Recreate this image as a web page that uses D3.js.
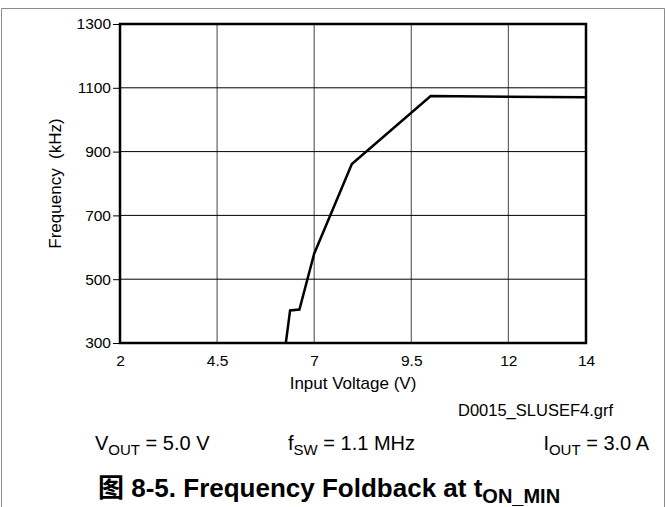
<!DOCTYPE html>
<html><head><meta charset="utf-8">
<script src="https://cdn.jsdelivr.net/npm/d3@7"></script>
<style>body{margin:0;background:#fff}svg{display:block;font-family:"Liberation Sans",Arial,sans-serif}</style>
</head><body><svg id="c" width="666" height="507"></svg>
<script>
const inputVoltage = [6.27, 6.38, 6.62, 7.0, 7.97, 10.0, 14.0];
const frequency = [300, 402, 405, 580, 861, 1074, 1070];
const xTicks = [2, 4.5, 7, 9.5, 12, 14];
const yTicks = [300, 500, 700, 900, 1100, 1300];

const svg = d3.select("#c");
const L = 120, R = 586, T = 24, B = 343;
const x = d3.scaleLinear().domain([2, 14]).range([L, R]);
const y = d3.scaleLinear().domain([300, 1300]).range([B, T]);

// outer frame
svg.append("path").attr("d", "M1.5,507 V8.5 H664.5 V507").attr("fill", "none").attr("stroke", "#8c8c8c").attr("stroke-width", 1);

// grid
svg.append("g").selectAll("line").data(xTicks.slice(1, -1)).join("line")
  .attr("x1", d => x(d)).attr("x2", d => x(d)).attr("y1", T).attr("y2", B)
  .attr("stroke", "#444").attr("stroke-width", 1);
svg.append("g").selectAll("line").data(yTicks.slice(1, -1)).join("line")
  .attr("x1", L).attr("x2", R).attr("y1", d => y(d)).attr("y2", d => y(d))
  .attr("stroke", "#000").attr("stroke-width", 1);

// y axis ticks & labels
const ya = d3.axisLeft(y).tickValues(yTicks).tickSize(7).tickPadding(2).tickFormat(d3.format("d"));
const gy = svg.append("g").attr("transform", `translate(${L},0)`).call(ya);
gy.select(".domain").remove();
gy.selectAll("line").attr("stroke", "#000");
gy.selectAll("text").attr("font-size", 15.5).attr("fill", "#000").attr("font-family", "Liberation Sans, Arial, sans-serif");

// x axis labels
const xa = d3.axisBottom(x).tickValues(xTicks).tickSize(0).tickPadding(12).tickFormat(d3.format("~g"));
const gx = svg.append("g").attr("transform", `translate(0,${B})`).call(xa);
gx.select(".domain").remove();
gx.selectAll("text").attr("font-size", 15.5).attr("fill", "#000").attr("font-family", "Liberation Sans, Arial, sans-serif");

// plot border
svg.append("rect").attr("x", L).attr("y", T).attr("width", R - L).attr("height", B - T)
  .attr("fill", "none").attr("stroke", "#000").attr("stroke-width", 2.5);

// curve
const line = d3.line().x((d, i) => x(inputVoltage[i])).y(d => y(d));
svg.append("path").attr("d", line(frequency)).attr("fill", "none").attr("stroke", "#000")
  .attr("stroke-width", 2.5).attr("stroke-linejoin", "miter");

// axis titles
svg.append("text").attr("x", (L + R) / 2).attr("y", 389).attr("text-anchor", "middle")
  .attr("font-size", 17).text("Input Voltage (V)");
svg.append("text").attr("transform", `translate(61,${(T + B) / 2}) rotate(-90)`).attr("text-anchor", "middle")
  .attr("font-size", 17).style("white-space", "pre").text("Frequency  (kHz)");

svg.append("text").attr("x", 458).attr("y", 416).attr("font-size", 16.5).text("D0015_SLUSEF4.grf");

// parameters
const p = svg.append("g").attr("font-size", 20);
let t = p.append("text").attr("x", 95).attr("y", 450);
t.append("tspan").text("V");
t.append("tspan").attr("font-size", 15).attr("dy", 5).text("OUT");
t.append("tspan").attr("dy", -5).text(" = 5.0 V");
t = p.append("text").attr("x", 288).attr("y", 450);
t.append("tspan").text("f");
t.append("tspan").attr("font-size", 15).attr("dy", 5).text("SW");
t.append("tspan").attr("dy", -5).text(" = 1.1 MHz");
t = p.append("text").attr("x", 649).attr("y", 450).attr("text-anchor", "end");
t.append("tspan").text("I");
t.append("tspan").attr("font-size", 15).attr("dy", 5).text("OUT");
t.append("tspan").attr("dy", -5).text(" = 3.0 A");

// title
t = svg.append("text").attr("x", 98).attr("y", 497).attr("font-size", 26).attr("font-weight", "bold");
t.append("tspan").attr("font-family", "Noto Sans CJK SC").text("图");
t.append("tspan").text(" 8-5. Frequency Foldback at t");
t.append("tspan").attr("font-size", 20).attr("dy", 6).text("ON_MIN");
</script></body></html>
